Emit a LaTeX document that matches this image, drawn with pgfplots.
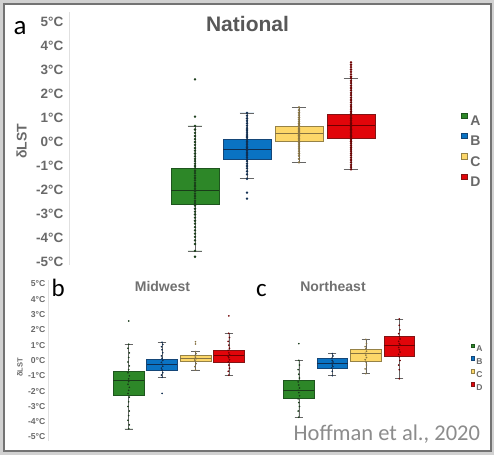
\documentclass[border=0pt]{standalone}
\usepackage{pgfplots}
\pgfplotsset{compat=1.18}
\usepgfplotslibrary{statistics}
\usepackage{fontspec}
\setmainfont{Liberation Sans}
\newfontfamily\carlito{Carlito}
\definecolor{gA}{RGB}{45,135,40}
\definecolor{gB}{RGB}{10,115,195}
\definecolor{gC}{RGB}{253,215,105}
\definecolor{gD}{RGB}{225,5,10}
\definecolor{eA}{RGB}{30,85,30}
\definecolor{eB}{RGB}{20,70,120}
\definecolor{eC}{RGB}{150,130,70}
\definecolor{eD}{RGB}{130,20,20}
\definecolor{dA}{RGB}{25,60,25}
\definecolor{dB}{RGB}{15,45,80}
\definecolor{dC}{RGB}{135,115,65}
\definecolor{dD}{RGB}{110,0,0}
\definecolor{tickgray}{RGB}{105,105,105}
\definecolor{titlegray}{RGB}{88,88,88}
\pgfplotsset{
  bx/.style={forget plot, line width=0.6pt, fill=g#1, draw=e#1, boxplot/every median/.append style={draw=d#1}},
  dots/.style={forget plot, only marks, mark=*, mark size=#1, mark options={draw=none}},
  boxplot/draw direction=y,
}
\begin{document}
\begin{tikzpicture}
\fill[black!18] (0pt,0pt) rectangle (494pt,455pt);
\draw[black!55, line width=2pt, fill=white] (4pt,4pt) rectangle (491pt,451pt);

% ---------------- National ----------------
\begin{axis}[at={(69pt,190pt)}, anchor=south west, scale only axis,
  width=360pt, height=253pt, xmin=-1.423, xmax=5.5, ymin=-5.125, ymax=5.417,
  clip=false, axis x line=none, axis y line*=left,
  y axis line style={draw=black!12, line width=1pt, -},
  ytick={-5,-4,-3,-2,-1,0,1,2,3,4,5},
  yticklabels={-5°C,-4°C,-3°C,-2°C,-1°C,0°C,1°C,2°C,3°C,4°C,5°C},
  major tick length=0pt,
  yticklabel style={font=\bfseries\fontsize{13.5}{14}\selectfont, text=tickgray, inner sep=0pt, xshift=-5.5pt},
  boxplot/draw direction=y,
  boxplot/every whisker/.style={draw=black!60, line width=0.7pt},
  boxplot/every median/.style={line width=0.9pt},
  legend style={draw=none, fill=none, at={(1.081,0.61)}, anchor=north west,
    font=\bfseries\fontsize{14}{14}\selectfont, text=tickgray, row sep=7.5pt,
    nodes={inner sep=0pt, text height=10pt, text depth=0pt}},
  legend cell align=left]
\addlegendimage{legend image code/.code={\draw[fill=gA, draw=eA, line width=0.4pt] (0pt,2.4pt) rectangle (5.2pt,7.6pt); \path (8.6pt,0pt);}}
\addlegendentry{A}
\addlegendimage{legend image code/.code={\draw[fill=gB, draw=eB, line width=0.4pt] (0pt,2.4pt) rectangle (5.2pt,7.6pt); \path (8.6pt,0pt);}}
\addlegendentry{B}
\addlegendimage{legend image code/.code={\draw[fill=gC, draw=eC, line width=0.4pt] (0pt,2.4pt) rectangle (5.2pt,7.6pt); \path (8.6pt,0pt);}}
\addlegendentry{C}
\addlegendimage{legend image code/.code={\draw[fill=gD, draw=eD, line width=0.4pt] (0pt,2.4pt) rectangle (5.2pt,7.6pt); \path (8.6pt,0pt);}}
\addlegendentry{D}
\addplot[bx=A, boxplot prepared={draw position=1, lower whisker=-4.54, lower quartile=-2.58, median=-2.01, upper quartile=-1.11, upper whisker=0.67, box extend=0.92, whisker extend=0.27}] coordinates {};
\addplot[bx=B, boxplot prepared={draw position=2, lower whisker=-1.53, lower quartile=-0.72, median=-0.32, upper quartile=0.125, upper whisker=1.21, box extend=0.92, whisker extend=0.27}] coordinates {};
\addplot[bx=C, boxplot prepared={draw position=3, lower whisker=-0.85, lower quartile=0.03, median=0.35, upper quartile=0.67, upper whisker=1.44, box extend=0.92, whisker extend=0.27}] coordinates {};
\addplot[bx=D, boxplot prepared={draw position=4, lower whisker=-1.14, lower quartile=0.15, median=0.68, upper quartile=1.15, upper whisker=2.65, box extend=0.92, whisker extend=0.27}] coordinates {};
\addplot[dots=1.0pt, color=dA] coordinates {
(1,2.61) (1,1.06) (1,0.67) (1,0.52) (1,0.38) (1,0.25) (1,0.12) (1,0.0) (1,-0.12) (1,-0.25)
(1,-0.36) (1,-0.48) (1,-0.6) (1,-0.7) (1,-0.8) (1,-0.9) (1,-1.0) (1,-1.1) (1,-1.2) (1,-1.3)
(1,-1.4) (1,-1.5) (1,-1.6) (1,-1.7) (1,-1.8) (1,-1.86) (1,-1.95) (1,-2.05) (1,-2.15) (1,-2.25)
(1,-2.35) (1,-2.45) (1,-2.55) (1,-2.65) (1,-2.78) (1,-2.9) (1,-3.02) (1,-3.15) (1,-3.28) (1,-3.4)
(1,-3.55) (1,-3.68) (1,-3.82) (1,-3.95) (1,-4.1) (1,-4.25) (1,-4.54) (1,-4.78)};
\addplot[dots=1.0pt, color=dB] coordinates {
(2,1.21) (2,1.1) (2,0.98) (2,0.88) (2,0.78) (2,0.68) (2,0.58) (2,0.5) (2,0.41) (2,0.33)
(2,0.25) (2,0.18) (2,0.1) (2,0.03) (2,-0.04) (2,-0.1) (2,-0.17) (2,-0.24) (2,-0.3) (2,-0.36)
(2,-0.43) (2,-0.5) (2,-0.57) (2,-0.64) (2,-0.72) (2,-0.8) (2,-0.9) (2,-1.0) (2,-1.1) (2,-1.22)
(2,-1.35) (2,-1.53) (2,-2.11) (2,-2.36)};
\addplot[dots=1.0pt, color=dC] coordinates {
(3,1.44) (3,1.33) (3,1.22) (3,1.12) (3,1.02) (3,0.93) (3,0.85) (3,0.77) (3,0.7) (3,0.63)
(3,0.56) (3,0.5) (3,0.44) (3,0.38) (3,0.33) (3,0.27) (3,0.21) (3,0.15) (3,0.09) (3,0.03)
(3,-0.04) (3,-0.12) (3,-0.2) (3,-0.29) (3,-0.38) (3,-0.48) (3,-0.58) (3,-0.7) (3,-0.85)};
\addplot[dots=1.0pt, color=dD] coordinates {
(4,3.32) (4,3.22) (4,3.12) (4,3.02) (4,2.92) (4,2.82) (4,2.72) (4,2.65) (4,2.55) (4,2.45)
(4,2.35) (4,2.25) (4,2.15) (4,2.05) (4,1.95) (4,1.85) (4,1.75) (4,1.65) (4,1.55) (4,1.46)
(4,1.37) (4,1.28) (4,1.2) (4,1.12) (4,1.04) (4,0.97) (4,0.9) (4,0.83) (4,0.76) (4,0.7)
(4,0.64) (4,0.58) (4,0.52) (4,0.46) (4,0.4) (4,0.34) (4,0.28) (4,0.22) (4,0.16) (4,0.09)
(4,0.02) (4,-0.06) (4,-0.14) (4,-0.22) (4,-0.3) (4,-0.38) (4,-0.47) (4,-0.56) (4,-0.65) (4,-0.75)
(4,-0.85) (4,-0.95) (4,-1.05) (4,-1.14)};
\end{axis}

% ---------------- Midwest ----------------
\begin{axis}[at={(48pt,14pt)}, anchor=south west, scale only axis,
  width=200.9pt, height=161pt, xmin=-1.416, xmax=4.6, ymin=-5.26, ymax=5.26,
  clip=false, axis x line=none, axis y line*=left,
  y axis line style={draw=black!12, line width=0.8pt, -},
  ytick={-5,-4,-3,-2,-1,0,1,2,3,4,5},
  yticklabels={-5°C,-4°C,-3°C,-2°C,-1°C,0°C,1°C,2°C,3°C,4°C,5°C},
  major tick length=0pt,
  yticklabel style={font=\bfseries\fontsize{8.6}{9}\selectfont, text=tickgray, inner sep=0pt, xshift=-2.5pt},
  boxplot/draw direction=y,
  boxplot/every whisker/.style={draw=black!60, line width=0.5pt},
  boxplot/every median/.style={line width=0.6pt}]
\addplot[bx=A, boxplot prepared={draw position=1, lower whisker=-4.46, lower quartile=-2.30, median=-1.27, upper quartile=-0.69, upper whisker=1.06, box extend=0.92, whisker extend=0.25}] coordinates {};
\addplot[bx=B, boxplot prepared={draw position=2, lower whisker=-1.10, lower quartile=-0.62, median=-0.25, upper quartile=0.08, upper whisker=1.19, box extend=0.92, whisker extend=0.25}] coordinates {};
\addplot[bx=C, boxplot prepared={draw position=3, lower whisker=-0.62, lower quartile=-0.05, median=0.12, upper quartile=0.32, upper whisker=0.58, box extend=0.92, whisker extend=0.25}] coordinates {};
\addplot[bx=D, boxplot prepared={draw position=4, lower whisker=-0.95, lower quartile=-0.10, median=0.32, upper quartile=0.66, upper whisker=1.78, box extend=0.92, whisker extend=0.25}] coordinates {};
\addplot[dots=0.6pt, color=dA] coordinates {
(1,2.58) (1,1.06) (0.98,0.8) (1.02,0.5) (1,0.2) (0.98,-0.1) (1.02,-0.35) (1,-0.6) (0.98,-0.8) (1.02,-1.0)
(1,-1.2) (1,-1.38) (0.98,-1.55) (1.02,-1.75) (1,-1.95) (0.98,-2.15) (1.02,-2.4) (1,-2.7) (0.98,-3.0) (1.02,-3.3)
(1,-3.6) (0.98,-3.9) (1.02,-4.2) (1,-4.46)};
\addplot[dots=0.6pt, color=dB] coordinates {
(2,1.19) (2.02,1.05) (1.98,0.9) (2,0.7) (2.02,0.5) (1.98,0.3) (2,0.15) (2.02,0.0) (1.98,-0.12) (2,-0.25)
(2.02,-0.38) (1.98,-0.5) (2,-0.62) (2.02,-0.8) (1.98,-0.95) (2,-1.1) (2,-2.15)};
\addplot[dots=0.6pt, color=dC] coordinates {
(3,1.23) (3,1.08) (3,0.58) (3.02,0.45) (2.98,0.32) (3,0.22) (3.02,0.12) (2.98,0.03) (3,-0.05) (3.02,-0.2)
(2.98,-0.4) (3,-0.62)};
\addplot[dots=0.6pt, color=dD] coordinates {
(4,2.91) (4,1.78) (4.02,1.5) (3.98,1.25) (4,1.0) (4.02,0.8) (3.98,0.66) (4,0.5) (4.02,0.38) (3.98,0.28)
(4,0.18) (4.02,0.05) (3.98,-0.1) (4,-0.3) (4.02,-0.5) (3.98,-0.7) (4,-0.95)};
\end{axis}

% ---------------- Northeast ----------------
\begin{axis}[at={(278.7pt,14pt)}, anchor=south west, scale only axis,
  width=154.1pt, height=161pt, xmin=0.4, xmax=5.0, ymin=-5.26, ymax=5.26,
  clip=false, hide axis,
  boxplot/draw direction=y,
  boxplot/every whisker/.style={draw=black!60, line width=0.5pt},
  boxplot/every median/.style={line width=0.6pt},
  legend style={draw=none, fill=none, at={(1.225,0.619)}, anchor=north west,
    font=\bfseries\fontsize{8.5}{9}\selectfont, text=tickgray, row sep=4.8pt,
    nodes={inner sep=0pt, text height=6pt, text depth=0pt}},
  legend cell align=left]
\addlegendimage{legend image code/.code={\draw[fill=gA, draw=eA, line width=0.3pt] (0pt,1.1pt) rectangle (3.8pt,4.9pt); \path (5.3pt,0pt);}}
\addlegendentry{A}
\addlegendimage{legend image code/.code={\draw[fill=gB, draw=eB, line width=0.3pt] (0pt,1.1pt) rectangle (3.8pt,4.9pt); \path (5.3pt,0pt);}}
\addlegendentry{B}
\addlegendimage{legend image code/.code={\draw[fill=gC, draw=eC, line width=0.3pt] (0pt,1.1pt) rectangle (3.8pt,4.9pt); \path (5.3pt,0pt);}}
\addlegendentry{C}
\addlegendimage{legend image code/.code={\draw[fill=gD, draw=eD, line width=0.3pt] (0pt,1.1pt) rectangle (3.8pt,4.9pt); \path (5.3pt,0pt);}}
\addlegendentry{D}
\addplot[bx=A, boxplot prepared={draw position=1, lower whisker=-3.71, lower quartile=-2.49, median=-1.95, upper quartile=-1.27, upper whisker=0.01, box extend=0.92, whisker extend=0.25}] coordinates {};
\addplot[bx=B, boxplot prepared={draw position=2, lower whisker=-0.99, lower quartile=-0.49, median=-0.19, upper quartile=0.14, upper whisker=0.45, box extend=0.92, whisker extend=0.25}] coordinates {};
\addplot[bx=C, boxplot prepared={draw position=3, lower whisker=-0.86, lower quartile=-0.08, median=0.47, upper quartile=0.75, upper whisker=1.38, box extend=0.92, whisker extend=0.25}] coordinates {};
\addplot[bx=D, boxplot prepared={draw position=4, lower whisker=-1.19, lower quartile=0.25, median=1.01, upper quartile=1.56, upper whisker=2.71, box extend=0.92, whisker extend=0.25}] coordinates {};
\addplot[dots=0.6pt, color=dA] coordinates {
(1,1.10) (1,0.01) (1.02,-0.3) (0.98,-0.6) (1,-0.9) (1.02,-1.15) (0.98,-1.4) (1,-1.6) (1.02,-1.8) (0.98,-1.95)
(1,-2.1) (1.02,-2.3) (0.98,-2.5) (1,-2.75) (1.02,-3.0) (0.98,-3.3) (1,-3.71)};
\addplot[dots=0.6pt, color=dB] coordinates {
(2,0.45) (2.02,0.3) (1.98,0.14) (2,0.0) (2.02,-0.1) (1.98,-0.19) (2,-0.3) (2.02,-0.4) (1.98,-0.49) (2,-0.7)
(2,-0.99)};
\addplot[dots=0.6pt, color=dC] coordinates {
(3,1.38) (3.02,1.1) (2.98,0.9) (3,0.75) (3.02,0.6) (2.98,0.47) (3,0.35) (3.02,0.2) (2.98,0.05) (3,-0.08)
(3.02,-0.3) (2.98,-0.55) (3,-0.86)};
\addplot[dots=0.6pt, color=dD] coordinates {
(4,2.71) (4,2.3) (4.02,2.0) (3.98,1.75) (4,1.56) (4.02,1.4) (3.98,1.25) (4,1.1) (4.02,1.01) (3.98,0.85)
(4,0.7) (4.02,0.55) (3.98,0.4) (4,0.25) (4.02,0.0) (3.98,-0.3) (4,-0.6) (4,-1.19)};
\end{axis}

% ---------------- texts ----------------
\node[anchor=base, font=\bfseries\fontsize{21}{24}\selectfont, text=titlegray, inner sep=0pt] at (247.5pt,423pt) {National};
\node[anchor=base, font=\bfseries\fontsize{14}{16}\selectfont, text=titlegray!85, inner sep=0pt] at (162.5pt,163.3pt) {Midwest};
\node[anchor=base, font=\bfseries\fontsize{14}{16}\selectfont, text=titlegray!85, inner sep=0pt] at (333pt,163.3pt) {Northeast};
\node[anchor=base west, font=\carlito\fontsize{27}{30}\selectfont, inner sep=0pt] at (13.5pt,420pt) {a};
\node[anchor=base west, font=\carlito\fontsize{25}{28}\selectfont, inner sep=0pt] at (51.5pt,158.5pt) {b};
\node[anchor=base west, font=\carlito\fontsize{25}{28}\selectfont, inner sep=0pt] at (256pt,158.5pt) {c};
\node[rotate=90, font=\bfseries\fontsize{14}{16}\selectfont, text=tickgray, inner sep=0pt] at (21.5pt,313.5pt) {δLST};
\node[rotate=90, font=\bfseries\fontsize{7.5}{9}\selectfont, text=tickgray, inner sep=0pt] at (20pt,87.5pt) {δLST};
\node[anchor=base west, font=\carlito\fontsize{22.5}{26}\selectfont, text=black!45, inner sep=0pt] at (293.5pt,15pt) {Hoffman et al., 2020};
\end{tikzpicture}
\end{document}
